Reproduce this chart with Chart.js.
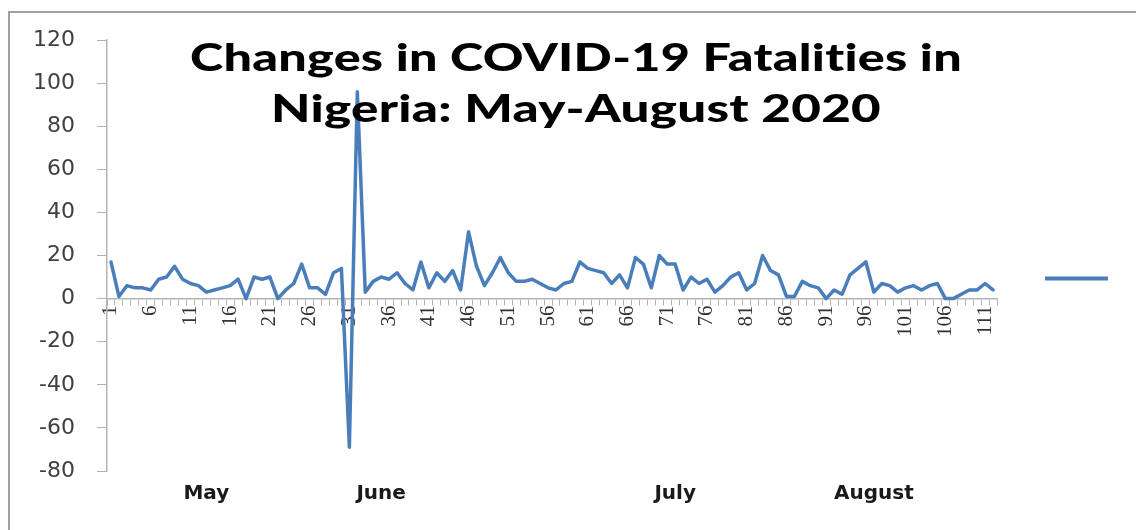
<!DOCTYPE html>
<html>
<head>
<meta charset="utf-8">
<script src="https://cdn.jsdelivr.net/npm/chart.js@4.4.1/dist/chart.umd.min.js"></script>
<style>
  html, body { margin: 0; padding: 0; background: #fff; }
  #wrap { width: 1136px; height: 530px; position: relative; }
</style>
</head>
<body>
<div id="wrap"><canvas id="myCanvas"></canvas></div>
<script>
// day number since 1 May 2020
const days = Array.from({ length: 112 }, (_, i) => String(i + 1));

// daily change in reported deaths
const fatalityChanges = [
    17, 1, 6, 5, 5, 4, 9, 10, 15, 9,
    7, 6, 3, 4, 5, 6, 9, 0, 10, 9,
    10, 0, 4, 7, 16, 5, 5, 2, 12, 14,
    -69, 96, 3, 8, 10, 9, 12, 7, 4, 17,
    5, 12, 8, 13, 4, 31, 15, 6, 12, 19,
    12, 8, 8, 9, 7, 5, 4, 7, 8, 17,
    14, 13, 12, 7, 11, 5, 19, 16, 5, 20,
    16, 16, 4, 10, 7, 9, 3, 6, 10, 12,
    4, 7, 20, 13, 11, 1, 1, 8, 6, 5,
    0, 4, 2, 11, 14, 17, 3, 7, 6, 3,
    5, 6, 4, 6, 7, 0, 0, 2, 4, 4,
    7, 4
];

const yTicks = [-80, -60, -40, -20, 0, 20, 40, 60, 80, 100, 120];

// month names and the day they sit under
const monthNames = ['May', 'June', 'July', 'August'];
const monthDays = [13, 35, 72, 97];

const titleLines = ['Changes in COVID-19 Fatalities in', 'Nigeria: May-August 2020'];

const lineBlue = '#4a7ebb';
const axisGrey = '#b3b3b3';
const labelGrey = '#404040';

const monthRow = days.map((d, i) => {
    const k = monthDays.indexOf(i + 1);
    return k >= 0 ? monthNames[k] : '';
});

// outer frame, only top and left edges show
const framePlugin = {
    id: 'frame',
    beforeDraw(chart) {
        const ctx = chart.ctx;
        ctx.save();
        ctx.strokeStyle = '#a0a0a0';
        ctx.lineWidth = 2;
        ctx.beginPath();
        ctx.moveTo(9, chart.height);
        ctx.lineTo(9, 12);
        ctx.lineTo(chart.width, 12);
        ctx.stroke();
        ctx.restore();
    }
};

// big two-line heading sitting inside the plot
const headingPlugin = {
    id: 'heading',
    afterDatasetsDraw(chart) {
        const ctx = chart.ctx;
        const cx = (chart.chartArea.left + chart.chartArea.right) / 2 + 24;
        const spec = [
            { text: titleLines[0], base: 71, width: 772 },
            { text: titleLines[1], base: 122, width: 610 }
        ];
        ctx.save();
        ctx.fillStyle = '#000';
        ctx.font = '900 37px Lato';
        ctx.letterSpacing = '0.2px'; // keeps "ti" from joining
        ctx.textAlign = 'center';
        ctx.textBaseline = 'alphabetic';
        spec.forEach(s => {
            const w = ctx.measureText(s.text).width;
            ctx.save();
            ctx.translate(cx, s.base);
            ctx.scale(s.width / w, 1);
            ctx.fillText(s.text, 0, 0);
            ctx.restore();
        });
        ctx.restore();
    }
};

const ctx = document.getElementById('myCanvas').getContext('2d');
const chart = new Chart(ctx, {
    type: 'line',
    data: {
        labels: days,
        datasets: [{
            label: '',
            data: fatalityChanges,
            borderColor: lineBlue,
            backgroundColor: lineBlue,
            borderWidth: 3.5,
            borderJoinStyle: 'round',
            borderCapStyle: 'round',
            pointRadius: 0,
            tension: 0,
            fill: false
        }]
    },
    options: {
        responsive: true,
        maintainAspectRatio: false,
        animation: false,
        events: [],
        layout: { padding: { top: 40, left: 0, right: 12, bottom: 13 } },
        plugins: {
            title: { display: false },
            tooltip: { enabled: false },
            legend: {
                position: 'right',
                labels: {
                    boxWidth: 63,
                    boxHeight: 4,
                    padding: 48,
                    generateLabels: () => [{
                        text: '',
                        fillStyle: lineBlue,
                        strokeStyle: lineBlue,
                        lineWidth: 0,
                        datasetIndex: 0
                    }]
                }
            }
        },
        scales: {
            x: {
                type: 'category',
                position: { y: 0 },
                offset: true,
                grid: {
                    offset: true,
                    drawOnChartArea: false,
                    drawTicks: true,
                    tickLength: 6,
                    color: axisGrey
                },
                border: { color: axisGrey, width: 1.5 },
                ticks: {
                    autoSkip: false,
                    minRotation: 90,
                    maxRotation: 90,
                    padding: 1,
                    color: '#333',
                    font: { family: '"Liberation Serif"', size: 21 },
                    callback: function (v, i) {
                        return i % 5 === 0 ? days[i] : '';
                    }
                }
            },
            months: {
                type: 'category',
                labels: monthRow,
                position: 'bottom',
                offset: true,
                grid: { display: false, drawTicks: false, tickLength: 0 },
                border: { display: false },
                ticks: {
                    autoSkip: false,
                    maxRotation: 0,
                    minRotation: 0,
                    padding: 11,
                    color: '#1a1a1a',
                    font: { family: '"DejaVu Sans"', size: 20, weight: 'bold' }
                }
            },
            y: {
                min: -80,
                max: 120,
                afterFit(scale) { scale.width = 107; },
                afterBuildTicks(scale) { scale.ticks = yTicks.map(v => ({ value: v })); },
                grid: {
                    drawOnChartArea: false,
                    tickLength: 10,
                    color: axisGrey
                },
                border: { color: axisGrey, width: 1.5 },
                ticks: {
                    padding: 22,
                    color: labelGrey,
                    font: { family: '"DejaVu Sans"', size: 22 }
                }
            }
        }
    },
    plugins: [framePlugin, headingPlugin]
});
</script>
</body>
</html>
